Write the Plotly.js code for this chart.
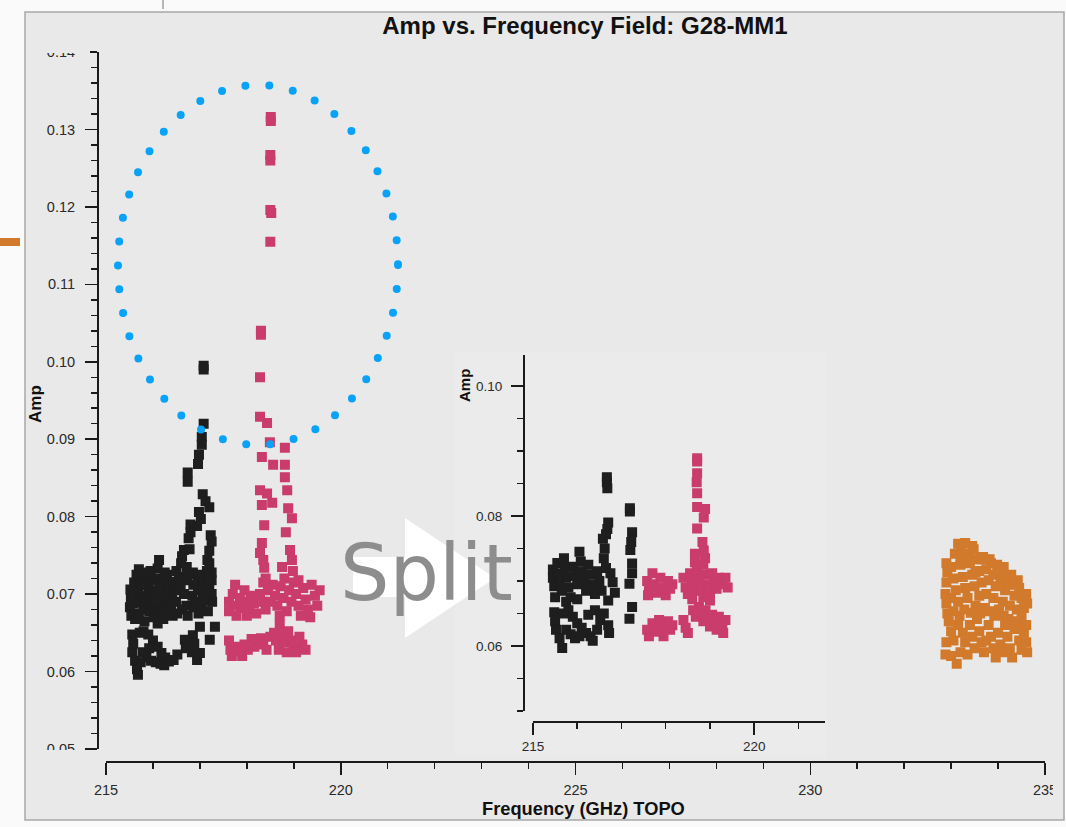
<!DOCTYPE html>
<html>
<head>
<meta charset="utf-8">
<script src="https://cdn.plot.ly/plotly-3.0.1.min.js"></script>
<style>
html,body{margin:0;padding:0;background:#fafafa;}
#plot{width:1066px;height:827px;}
</style>
</head>
<body>
<div id="plot"></div>
<script>
// ---------- DATA ----------
// Main plot (all spws): frequency (GHz) and amplitude
const mainBlackFreq = [
  217.08,217.08,217.08,217.04,217.04,216.98,216.96,216.74,216.74,217.06,217.12,217.20,216.98,217.02,216.94,216.80,216.80,216.76,217.23,217.25,217.20,217.16,217.20,216.66,216.62,216.78,217.25,217.25,217.20,216.13,216.10,215.87,
  215.52,215.53,215.51,215.54, 215.60,215.61,215.59,215.62, 215.70,215.71,215.69,215.72,215.70, 215.80,215.79,215.81,215.80,215.82, 215.90,215.91,215.89,215.92, 216.00,216.01,215.99,216.02, 216.10,216.11,216.09,216.12,216.10, 216.20,216.21,216.19,216.22, 216.30,216.31,216.29,216.32, 216.40,216.41,216.39,216.42, 216.50,216.51,216.49,216.52, 216.60,216.61,216.59,216.62, 216.72,216.73,216.71,216.74, 216.85,216.86,216.84,216.87, 216.95,216.96,216.94,216.97, 217.05,217.06,217.04, 217.15,217.16,217.14,217.17, 217.25,217.26,
  215.56,215.65,215.75,215.85,215.95,216.05,216.15,216.25,216.35,216.45,216.55,216.66,216.78,216.90,217.00,217.10,217.20,
  215.56,215.58,215.56,215.62,215.66,215.68,215.72,215.80,215.90,216.00,216.10,216.18,216.26,216.34,216.44,216.52,215.78,215.86,215.96,216.06,216.16,215.74,215.92,216.24,
  216.68,216.70,216.85,216.83,217.00,217.32,217.21,216.94,217.00,216.88
];
const mainBlackAmp = [
  0.0995,0.0990,0.0920,0.0903,0.0893,0.0880,0.0868,0.0857,0.0845,0.0829,0.0820,0.0812,0.0806,0.0797,0.0788,0.0790,0.0780,0.0772,0.0776,0.0768,0.0756,0.0744,0.0740,0.0757,0.0749,0.0758,0.0728,0.0718,0.0710,0.0744,0.0733,0.0725,
  0.0706,0.0695,0.0683,0.0672, 0.0715,0.0700,0.0688,0.0668, 0.0732,0.0720,0.0705,0.0690,0.0675, 0.0728,0.0712,0.0698,0.0680,0.0665, 0.0722,0.0708,0.0693,0.0678, 0.0718,0.0702,0.0687,0.0670, 0.0720,0.0705,0.0690,0.0676,0.0662, 0.0714,0.0699,0.0684,0.0668, 0.0725,0.0710,0.0695,0.0678, 0.0716,0.0700,0.0686,0.0672, 0.0730,0.0713,0.0690,0.0675, 0.0740,0.0722,0.0708,0.0680, 0.0735,0.0718,0.0685,0.0672, 0.0728,0.0712,0.0698,0.0683, 0.0722,0.0705,0.0690,0.0675, 0.0715,0.0700,0.0684, 0.0730,0.0710,0.0692,0.0678, 0.0700,0.0690,
  0.0700,0.0725,0.0712,0.0690,0.0730,0.0695,0.0708,0.0728,0.0690,0.0705,0.0720,0.0700,0.0726,0.0690,0.0725,0.0718,0.0720,
  0.0648,0.0636,0.0625,0.0614,0.0603,0.0596,0.0650,0.0652,0.0648,0.0640,0.0632,0.0624,0.0618,0.0613,0.0615,0.0622,0.0625,0.0618,0.0614,0.0612,0.0610,0.0612,0.0630,0.0608,
  0.0641,0.0630,0.0647,0.0625,0.0658,0.0658,0.0641,0.0615,0.0624,0.0636
];
const mainPinkFreq = [
  218.51,218.51,218.50,218.50,218.50,218.52,218.50,218.30,218.30,218.28,218.28,218.43,218.49,218.81,218.32,218.56,218.81,218.81,218.28,218.43,218.32,218.54,218.86,218.88,218.96,218.37,218.83,218.32,218.28,218.35,218.92,218.96,218.37,218.75,218.98,
  217.62,217.62,217.70,217.72,217.78,217.85,217.88,217.95,217.98,218.05,218.08,218.15,218.20,218.28,218.35,218.40,218.00,217.75,
  218.35,218.45,218.55,218.60,218.65,218.72,218.78,218.85,218.90,218.95,219.00,219.05,219.10,219.15,219.20,219.25,219.30,219.38,219.45,219.50,219.55,218.50,218.70,219.35,218.40,218.80,219.10,
  217.62,217.65,217.68,217.75,217.82,217.90,217.95,218.02,218.10,218.16,218.30,218.35,218.42,218.50,218.58,218.62,218.70,218.75,218.80,218.88,218.95,219.00,219.05,219.12,219.18,219.25,218.68,218.85
];
const mainPinkAmp = [
  0.1316,0.1311,0.1267,0.1260,0.1196,0.1192,0.1155,0.1040,0.1035,0.0980,0.0929,0.0921,0.0896,0.0889,0.0877,0.0867,0.0867,0.0851,0.0834,0.0830,0.0815,0.0818,0.0834,0.0811,0.0798,0.0789,0.0780,0.0766,0.0753,0.0744,0.0757,0.0744,0.0734,0.0735,0.0730,
  0.0690,0.0678,0.0700,0.0685,0.0672,0.0695,0.0682,0.0705,0.0690,0.0680,0.0698,0.0688,0.0675,0.0700,0.0690,0.0680,0.0672,0.0712,
  0.0715,0.0705,0.0712,0.0698,0.0685,0.0710,0.0695,0.0678,0.0705,0.0690,0.0715,0.0700,0.0685,0.0672,0.0708,0.0693,0.0680,0.0712,0.0698,0.0685,0.0705,0.0690,0.0672,0.0670,0.0720,0.0720,0.0718,
  0.0640,0.0628,0.0620,0.0632,0.0626,0.0620,0.0635,0.0628,0.0642,0.0632,0.0643,0.0635,0.0628,0.0645,0.0650,0.0640,0.0660,0.0648,0.0638,0.0652,0.0640,0.0632,0.0625,0.0645,0.0635,0.0628,0.0628,0.0625
];
const mainOrangeFreq = [
  233.15,233.30,233.45,233.35,233.20,
  232.90,232.92,232.90,233.00,233.05,233.10,233.20,233.25,233.30,233.40,233.45,233.50,233.55,233.60,233.65,233.70,233.75,233.80,233.85,233.90,233.95,234.00,234.05,234.10,234.15,234.20,234.30,234.35,234.45,234.50,234.55,234.60,234.62,232.88,232.90,233.00,233.15,233.35,233.60,233.75,233.90,234.10,234.25,234.40,234.50,
  232.92,233.05,233.18,233.28,233.42,233.52,233.62,233.72,233.82,233.92,234.02,234.12,234.22,234.32,234.42,234.52,234.60,
  233.08,233.22,233.38,233.52,233.68,233.82,233.98,234.12,234.28,234.42,233.48,233.62,
  232.95,233.00,232.90,233.05,232.88,233.00,233.12,233.15,233.25,233.30,233.40,233.45,233.50,233.55,233.60,233.65,233.70,233.80,233.85,233.90,233.95,234.00,234.05,234.10,234.15,234.20,234.25,234.30,234.35,234.45,234.50,234.55,234.60,234.62,233.20,233.35,233.75
];
const mainOrangeAmp = [
  0.0765,0.0766,0.0762,0.0752,0.0748,
  0.0740,0.0728,0.0715,0.0735,0.0720,0.0705,0.0738,0.0722,0.0708,0.0740,0.0725,0.0710,0.0745,0.0730,0.0715,0.0745,0.0732,0.0718,0.0740,0.0725,0.0710,0.0730,0.0715,0.0722,0.0705,0.0715,0.0712,0.0698,0.0708,0.0695,0.0682,0.0700,0.0688,0.0700,0.0688,0.0695,0.0690,0.0695,0.0698,0.0700,0.0695,0.0690,0.0685,0.0680,0.0670,
  0.0675,0.0678,0.0672,0.0680,0.0676,0.0685,0.0675,0.0682,0.0678,0.0672,0.0680,0.0672,0.0668,0.0662,0.0665,0.0660,0.0660,
  0.0752,0.0755,0.0750,0.0728,0.0748,0.0745,0.0738,0.0735,0.0725,0.0718,0.0758,0.0745,
  0.0665,0.0652,0.0638,0.0640,0.0622,0.0620,0.0610,0.0660,0.0650,0.0638,0.0660,0.0645,0.0630,0.0668,0.0652,0.0638,0.0625,0.0660,0.0645,0.0630,0.0618,0.0650,0.0635,0.0625,0.0660,0.0645,0.0630,0.0618,0.0655,0.0640,0.0628,0.0650,0.0638,0.0625,0.0625,0.0622,0.0640
];
// Inset plot (after split)
const insetBlackFreq = [
  215.45,215.45,215.48,215.55,215.55,215.60,215.65,215.70,215.72,215.75,215.80,215.85,215.90,215.95,216.00,216.05,216.08,216.10,216.15,216.20,216.25,216.30,216.35,216.45,216.50,216.55,216.60,216.65,216.75,216.80,216.85,216.70,215.50,215.75,216.00,216.40,216.62,216.58,
  216.67,216.67,216.68,216.70,216.68,216.65,217.19,217.19,217.24,217.22,217.20,217.24,217.24,217.18,217.24,217.18,
  215.48,215.50,215.52,215.60,215.66,215.70,215.80,215.90,216.00,216.10,216.20,216.30,216.35,215.75,215.85,215.95,216.05,216.45,216.52,216.60,216.70,216.72,216.40,216.25
];
const insetBlackAmp = [
  0.0718,0.0705,0.0692,0.0728,0.0712,0.0698,0.0685,0.0735,0.0720,0.0705,0.0690,0.0675,0.0722,0.0708,0.0695,0.0745,0.0730,0.0715,0.0700,0.0685,0.0725,0.0710,0.0695,0.0715,0.0700,0.0685,0.0735,0.0720,0.0712,0.0698,0.0682,0.0670,0.0675,0.0668,0.0672,0.0680,0.0750,0.0765,
  0.0860,0.0852,0.0843,0.0790,0.0780,0.0772,0.0812,0.0807,0.0775,0.0760,0.0748,0.0727,0.0712,0.0696,0.0660,0.0642,
  0.0652,0.0638,0.0625,0.0612,0.0597,0.0650,0.0655,0.0645,0.0635,0.0628,0.0620,0.0615,0.0608,0.0625,0.0618,0.0612,0.0615,0.0625,0.0640,0.0650,0.0632,0.0620,0.0655,0.0648
];
const insetPinkFreq = [
  217.58,217.62,217.60,217.70,217.72,217.80,217.88,217.92,218.00,218.05,218.10,218.15,
  217.58,217.62,217.70,217.75,217.85,217.90,217.95,218.05,218.10,218.15,
  218.40,218.45,218.50,218.55,218.60,218.65,218.70,218.75,218.80,218.85,218.90,218.95,219.00,219.05,219.10,219.15,219.20,219.28,219.35,219.40,219.00,218.60,
  218.40,218.45,218.50,218.62,218.68,218.75,218.80,218.85,218.90,218.95,219.00,219.05,219.10,219.15,219.20,219.28,219.35,219.30,
  218.71,218.71,218.71,218.70,218.71,218.71,218.89,218.86,218.71,218.83,218.86,218.66,218.66,218.89,218.85
];
const insetPinkAmp = [
  0.0700,0.0688,0.0678,0.0712,0.0695,0.0682,0.0705,0.0690,0.0678,0.0700,0.0688,0.0695,
  0.0625,0.0615,0.0635,0.0622,0.0640,0.0628,0.0615,0.0638,0.0625,0.0632,
  0.0705,0.0690,0.0680,0.0712,0.0698,0.0685,0.0715,0.0700,0.0688,0.0675,0.0710,0.0695,0.0682,0.0712,0.0700,0.0688,0.0705,0.0695,0.0705,0.0690,0.0670,0.0672,
  0.0640,0.0628,0.0620,0.0655,0.0645,0.0660,0.0650,0.0638,0.0655,0.0642,0.0630,0.0648,0.0635,0.0625,0.0645,0.0632,0.0640,0.0620,
  0.0889,0.0884,0.0866,0.0852,0.0835,0.0814,0.0811,0.0798,0.0781,0.0760,0.0747,0.0742,0.0729,0.0735,0.0725
];
const mainXTicks = [215, 220, 225, 230, 235];
const titleText = 'Amp vs. Frequency Field: G28-MM1';
const xTitleText = 'Frequency (GHz) TOPO';
const yTitleText = 'Amp';
const overlayText = 'Split';

// ---------- LAYOUT HELPERS ----------
const W = 1066, H = 827;
const px = x => x / W;
const py = y => 1 - y / H;
const FONT = 'Liberation Sans, Arial, Helvetica, sans-serif';
const BLACK = '#1e1e1e', PINK = '#c93c6c', ORANGE = '#d27a2c';
const BG = '#e9e9e9';

function pts(x, y, color, xa, ya) {
  return {type:'scatter', mode:'markers', x:x, y:y, xaxis:xa, yaxis:ya,
    marker:{symbol:'square', size:8.5, color:color, line:{width:1.5, color:color}},
    hoverinfo:'skip', showlegend:false};
}
const data = [
  pts(mainBlackFreq, mainBlackAmp, BLACK, 'x', 'y'),
  pts(mainPinkFreq, mainPinkAmp, PINK, 'x', 'y'),
  pts(mainOrangeFreq, mainOrangeAmp, ORANGE, 'x', 'y'),
  pts(insetBlackFreq, insetBlackAmp, BLACK, 'x2', 'y2'),
  pts(insetPinkFreq, insetPinkAmp, PINK, 'x2', 'y2')
];

const axBase = {showgrid:false, zeroline:false, showline:true, linecolor:'#1a1a1a', linewidth:1.5,
  ticks:'outside', tickcolor:'#1a1a1a', tickwidth:1.5, ticklen:12, fixedrange:true,
  tickfont:{family:FONT, size:14.5, color:'#2a2a2a'}};
const minorBase = {ticks:'outside', ticklen:6, tickwidth:1.5, tickcolor:'#1a1a1a', showgrid:false};

function P(pts) { // pixel points -> paper path
  return pts.map((p,i)=> (i?'L':'M') + px(p[0]).toFixed(5) + ',' + py(p[1]).toFixed(5)).join(' ') + ' Z';
}

const layout = {
  width:W, height:H, margin:{l:0,r:0,t:0,b:0},
  paper_bgcolor:'#fafafa', plot_bgcolor:'rgba(0,0,0,0)',
  showlegend:false,
  title:{text:'<b>'+titleText+'</b>', x:px(585), xanchor:'center', xref:'paper',
         y:py(26), yanchor:'middle', yref:'paper', font:{family:FONT, size:24, color:'#111'}},
  xaxis:Object.assign({}, axBase, {domain:[px(106), px(1045)], range:[215,235], anchor:'free',
    position:py(761), tickmode:'array', tickvals:mainXTicks, ticklabelstandoff:3,
    minor:Object.assign({dtick:1, tick0:215}, minorBase)}),
  yaxis:Object.assign({}, axBase, {domain:[py(749), py(52)], range:[0.05,0.14], anchor:'free',
    position:px(97), tick0:0.05, dtick:0.01, tickformat:'.2f', ticklabelstandoff:7,
    minor:Object.assign({dtick:0.002, tick0:0.05}, minorBase)}),
  xaxis2:Object.assign({}, axBase, {domain:[px(533), px(825)], range:[215,221.6], anchor:'free',
    position:py(721), tick0:215, dtick:5, tickfont:{family:FONT, size:13.5, color:'#2a2a2a'},
    minor:Object.assign({dtick:1, tick0:215}, minorBase)}),
  yaxis2:Object.assign({}, axBase, {domain:[py(711), py(355)], range:[0.05,0.1048], anchor:'free',
    position:px(523), tick0:0, dtick:0.02, tickformat:'.2f', ticklabelstandoff:6,
    tickfont:{family:FONT, size:13.5, color:'#2a2a2a'},
    minor:Object.assign({dtick:0.005, tick0:0}, minorBase)}),
  shapes:[
    {type:'rect', xref:'paper', yref:'paper', layer:'below', x0:px(25), x1:px(1064), y0:py(820), y1:py(12),
      fillcolor:BG, line:{color:'#a8a8a8', width:1.5}},
    {type:'rect', xref:'paper', yref:'paper', layer:'below', x0:px(455), x1:px(826), y0:py(757), y1:py(352),
      fillcolor:'#ebebeb', line:{width:0}},
    {type:'line', xref:'paper', yref:'paper', layer:'below', x0:px(163), x1:px(163), y0:py(0), y1:py(9),
      line:{color:'#a0a0a0', width:1.5}},
    {type:'rect', xref:'paper', yref:'paper', layer:'above', x0:px(0), x1:px(20), y0:py(246), y1:py(238),
      fillcolor:ORANGE, line:{width:0}},
    // cover rects emulating clipped edge labels
    {type:'rect', xref:'paper', yref:'paper', layer:'above', x0:px(30), x1:px(90), y0:py(53), y1:py(20),
      fillcolor:BG, line:{width:0}},
    {type:'rect', xref:'paper', yref:'paper', layer:'above', x0:px(30), x1:px(90), y0:py(760), y1:py(750),
      fillcolor:BG, line:{width:0}},
    {type:'rect', xref:'paper', yref:'paper', layer:'above', x0:px(1053), x1:px(1063), y0:py(800), y1:py(776),
      fillcolor:BG, line:{width:0}},
    // white arrow
    {type:'path', xref:'paper', yref:'paper', layer:'above',
      path:P([[353,557],[405,557],[405,518],[495,578],[405,638],[405,597],[353,597]]),
      fillcolor:'#ffffff', line:{width:0}},
    // dotted ellipse
    {type:'circle', xref:'paper', yref:'paper', layer:'above', x0:px(118), x1:px(398), y0:py(445), y1:py(85),
      fillcolor:'rgba(0,0,0,0)', line:{color:'#08a2f8', width:8, dash:'0px,24px'}}
  ],
  annotations:[
    {text:'<b>'+xTitleText+'</b>', xref:'paper', yref:'paper', x:px(583), y:py(808), xanchor:'center', yanchor:'middle',
      showarrow:false, font:{family:FONT, size:18.3, color:'#111'}},
    {text:'<b>'+yTitleText+'</b>', xref:'paper', yref:'paper', x:px(35), y:py(404), xanchor:'center', yanchor:'middle',
      textangle:-90, showarrow:false, font:{family:FONT, size:17, color:'#111'}},
    {text:'<b>'+yTitleText+'</b>', xref:'paper', yref:'paper', x:px(464), y:py(386), xanchor:'center', yanchor:'middle',
      textangle:-90, showarrow:false, font:{family:FONT, size:15, color:'#111'}},
    {text:overlayText, xref:'paper', yref:'paper', x:px(338), y:py(573), xanchor:'left', yanchor:'middle',
      showarrow:false, font:{family:'DejaVu Sans, sans-serif', size:78, color:'#8d8d8d'}}
  ]
};

Plotly.newPlot('plot', data, layout, {staticPlot:true, displayModeBar:false}).then(gd => {
  gd.querySelectorAll('.shapelayer path').forEach(p => {
    const d = p.style.strokeDasharray || p.getAttribute('stroke-dasharray') || '';
    if (d.indexOf('24') >= 0) { p.style.strokeLinecap = 'round'; }
  });
});
</script>
</body>
</html>
